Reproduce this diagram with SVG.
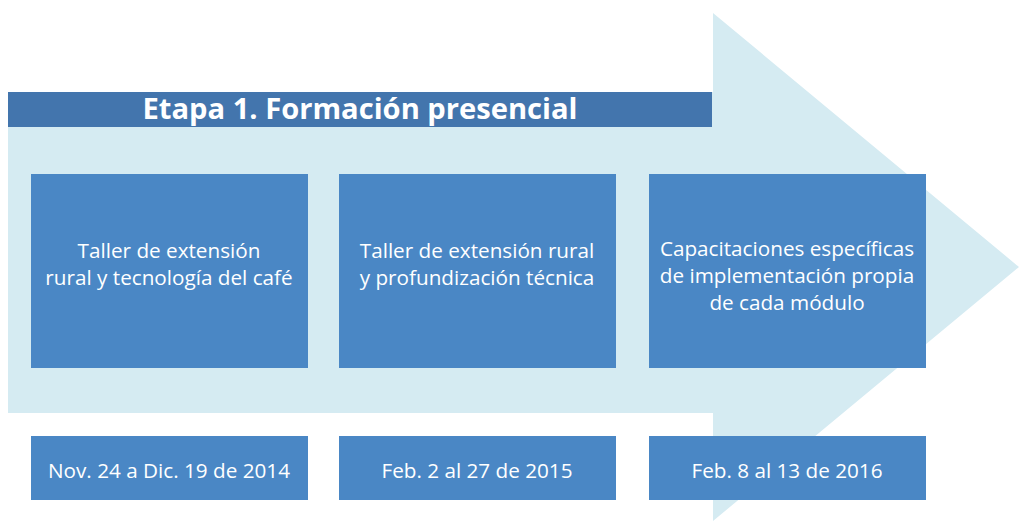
<svg xmlns="http://www.w3.org/2000/svg" width="1019" height="526" viewBox="0 0 1019 526">
<style>
.box{fill:#4a87c5}
.t{font-family:"Open Sans","Liberation Sans",sans-serif;font-size:20.7px;fill:#ffffff;text-anchor:middle}
.h{font-family:"Open Sans","Liberation Sans",sans-serif;font-size:28px;font-weight:bold;fill:#ffffff;text-anchor:middle}
</style>
<rect width="1019" height="526" fill="#ffffff"/>
<g id="arrow">
<polygon points="8,92 713,92 713,13 1019,267 713,521 713,413 8,413" fill="#d5ebf2"/>
</g>
<g id="header">
<rect x="8" y="92" width="704" height="35" fill="#4375ad"/>
<text class="h" x="360" y="119" textLength="435" lengthAdjust="spacingAndGlyphs">Etapa 1. Formación presencial</text>
</g>
<g id="node1">
<rect class="box" x="31" y="174" width="277" height="194"/>
<text class="t" x="169" y="258">Taller de extensión</text>
<text class="t" x="169" y="285">rural y tecnología del café</text>
</g>
<g id="node2">
<rect class="box" x="339" y="174" width="277" height="194"/>
<text class="t" x="477" y="258">Taller de extensión rural</text>
<text class="t" x="477" y="285">y profundización técnica</text>
</g>
<g id="node3">
<rect class="box" x="649" y="174" width="277" height="194"/>
<text class="t" x="787" y="256">Capacitaciones específicas</text>
<text class="t" x="787" y="283">de implementación propia</text>
<text class="t" x="787" y="310">de cada módulo</text>
</g>
<g id="date1">
<rect class="box" x="31" y="436" width="277" height="64"/>
<text class="t" x="169" y="478">Nov. 24 a Dic. 19 de 2014</text>
</g>
<g id="date2">
<rect class="box" x="339" y="436" width="277" height="64"/>
<text class="t" x="477" y="478">Feb. 2 al 27 de 2015</text>
</g>
<g id="date3">
<rect class="box" x="649" y="436" width="277" height="64"/>
<text class="t" x="787" y="478">Feb. 8 al 13 de 2016</text>
</g>
<g id="connectors"></g>
</svg>
